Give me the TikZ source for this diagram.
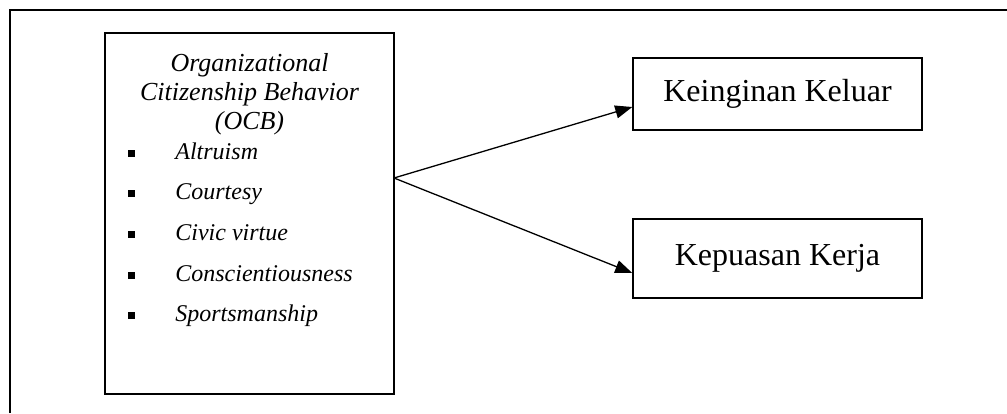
\documentclass[tikz,border=0pt]{standalone}
\usepackage{fontspec}
\setmainfont{Liberation Serif}
\usetikzlibrary{arrows.meta}
\tikzstyle{bigbox}=[rectangle, draw, line width=0.75pt, inner sep=0]
\tikzstyle{varbox}=[rectangle, draw, line width=0.75pt, minimum width=144.5pt, text centered, font=\fontsize{16}{19}\selectfont]
\tikzstyle{sqdot}=[shape=rectangle, minimum size=3.5pt, inner sep=0, fill=black]
\tikzstyle{itemtext}=[anchor=base west, inner sep=0, font=\fontsize{12}{14}\selectfont\itshape]
\tikzstyle{arrow}=[line width=0.65pt, -{Triangle[length=8.5pt,width=6.5pt]}]

\begin{document}
\begin{tikzpicture}[x=0.5pt,y=-0.5pt]
\useasboundingbox (0,0) rectangle (1007,413);
% frame
\draw[line width=1pt] (10,413) -- (10,10) -- (1007,10);

% left box with the dimensions
\node[bigbox, minimum width=144.5pt, minimum height=180.5pt] (ocb) at (249.5,213.5) {};
\node[align=center, inner sep=0, font=\fontsize{13}{14.5}\selectfont\itshape] (title) at (249.5,94) {Organizational\\Citizenship Behavior\\(OCB)};
\foreach \t [count=\i] in {Altruism,Courtesy,Civic virtue,Conscientiousness,Sportsmanship}{
	\node[sqdot] (b\i) at (131,112.3+40.7*\i) {};
	\node[itemtext] (t\i) at (175,118.3+40.7*\i) {\t};
}

% right boxes
\node[varbox, minimum height=36pt] (keluar) at (777.5,94) {Keinginan Keluar};
\node[varbox, minimum height=39.5pt] (kepuasan) at (777.5,258.5) {Kepuasan Kerja};

\coordinate (split) at (394,178);
\draw[arrow] (split) -- ([yshift=-6.5pt]keluar.west);
\draw[arrow] (split) -- ([yshift=-7.25pt]kepuasan.west);
\end{tikzpicture}
\end{document}
